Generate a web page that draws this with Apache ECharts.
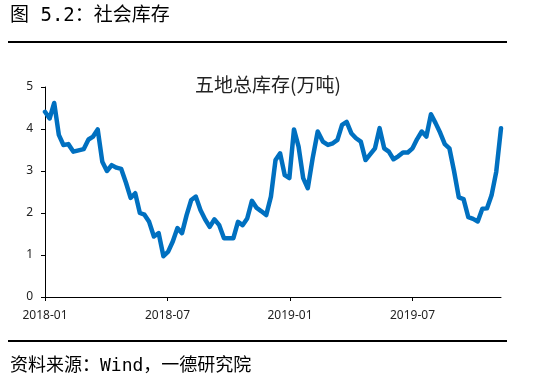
<!DOCTYPE html>
<html>
<head>
<meta charset="utf-8">
<script src="https://cdn.jsdelivr.net/npm/echarts@6/dist/echarts.min.js"></script>
<style>
html,body{margin:0;padding:0;background:#fff;}
#c{width:545px;height:381px;}
</style>
</head>
<body>
<div id="c"></div>
<script>
// weekly observations starting 2018-01-01
const startDate = '2018-01-01';
const stockValues = [
  4.41, 4.25, 4.62, 3.86, 3.62, 3.64, 3.46, 3.49, 3.52, 3.75,
  3.82, 3.99, 3.22, 3.00, 3.14, 3.08, 3.05, 2.72, 2.36, 2.47,
  2.00, 1.96, 1.79, 1.44, 1.52, 0.97, 1.08, 1.32, 1.64, 1.52,
  1.95, 2.31, 2.39, 2.07, 1.85, 1.67, 1.85, 1.71, 1.40, 1.40,
  1.40, 1.79, 1.71, 1.87, 2.29, 2.12, 2.04, 1.95, 2.39, 3.26,
  3.42, 2.90, 2.83, 3.99, 3.58, 2.83, 2.59, 3.30, 3.94, 3.70,
  3.62, 3.66, 3.74, 4.10, 4.17, 3.90, 3.78, 3.70, 3.26, 3.40,
  3.54, 4.02, 3.54, 3.46, 3.28, 3.35, 3.44, 3.44, 3.54, 3.76,
  3.94, 3.82, 4.35, 4.14, 3.91, 3.64, 3.54, 3.00, 2.37, 2.33,
  1.90, 1.86, 1.80, 2.10, 2.11, 2.42, 2.98, 4.02
];
const xTickLabels = ['2018-01', '2018-07', '2019-01', '2019-07'];
const yTicks = [0, 1, 2, 3, 4, 5];
const chartTitle = '五地总库存(万吨)';
const figTitle = '图 5.2：社会库存';
const sourceText = '资料来源：Wind，一德研究院';

// build weekly dates and convert to fractional month index since 2018-01
const dates = [];
const d0 = new Date(startDate + 'T00:00:00Z');
for (let i = 0; i < stockValues.length; i++) {
  dates.push(new Date(d0.getTime() + i * 7 * 86400000));
}
function monthIndex(d) {
  const y = d.getUTCFullYear(), m = d.getUTCMonth(), day = d.getUTCDate();
  const dim = new Date(Date.UTC(y, m + 1, 0)).getUTCDate();
  return (y - 2018) * 12 + m + (day - 1) / dim;
}
const seriesData = stockValues.map((v, i) => [monthIndex(dates[i]), v]);
const xMax = seriesData[seriesData.length - 1][0];
const tickMonths = xTickLabels.map(s => {
  const [yy, mm] = s.split('-').map(Number);
  return (yy - 2018) * 12 + (mm - 1);
});

const chart = echarts.init(document.getElementById('c'), null, {renderer: 'canvas'});
const numFont = '"Noto Sans", "DejaVu Sans", sans-serif';
const cjkFont = '"Noto Sans CJK SC", sans-serif';
const monoCjk = '"DejaVu Sans Mono", "Noto Sans CJK SC", monospace';
chart.setOption({
  animation: false,
  backgroundColor: '#fff',
  title: {
    text: chartTitle,
    left: 190,
    top: 70,
    textStyle: {fontFamily: cjkFont, fontSize: 19, fontWeight: 'normal', color: '#222'}
  },
  grid: {left: 45, right: 44, top: 87, bottom: 84, containLabel: false},
  xAxis: {
    type: 'value',
    min: 0,
    max: xMax,
    axisLine: {lineStyle: {color: '#000', width: 1}},
    axisTick: {show: true, length: 4, lineStyle: {color: '#000'}, customValues: tickMonths},
    axisLabel: {
      customValues: tickMonths,
      formatter: v => {
        const idx = tickMonths.findIndex(t => Math.abs(t - v) < 1e-6);
        return idx >= 0 ? xTickLabels[idx] : '';
      },
      color: '#222', fontFamily: numFont, fontSize: 12, margin: 13
    },
    splitLine: {show: false}
  },
  yAxis: {
    type: 'value',
    min: yTicks[0],
    max: yTicks[yTicks.length - 1],
    interval: 1,
    axisLine: {show: true, lineStyle: {color: '#000', width: 1}},
    axisTick: {show: true, length: 4, lineStyle: {color: '#000'}},
    axisLabel: {color: '#222', fontFamily: numFont, fontSize: 12, margin: 12},
    splitLine: {show: false}
  },
  series: [{
    type: 'line',
    data: seriesData,
    showSymbol: false,
    smooth: false,
    lineStyle: {color: '#0070C0', width: 4.5, join: 'round', cap: 'round'},
    itemStyle: {color: '#0070C0'}
  }],
  graphic: [
    {type: 'text', left: 10, top: 7, style: {text: figTitle, font: '19px ' + monoCjk, fill: '#000'}},
    {type: 'rect', shape: {x: 8, y: 41, width: 499, height: 2}, style: {fill: '#000'}},
    {type: 'rect', shape: {x: 8, y: 340, width: 499, height: 2}, style: {fill: '#000'}},
    {type: 'text', left: 10, top: 357, style: {text: sourceText, font: '18px ' + monoCjk, fill: '#000'}}
  ]
});
</script>
</body>
</html>
